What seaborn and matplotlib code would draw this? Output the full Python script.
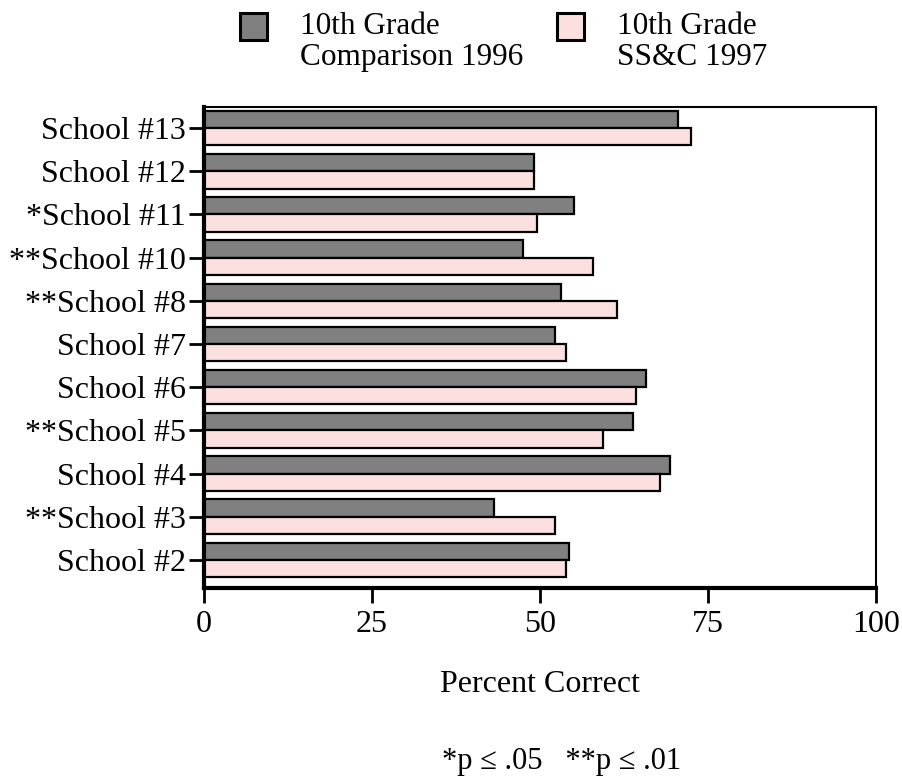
import matplotlib
matplotlib.use("Agg")
import matplotlib.pyplot as plt
import seaborn as sns
import pandas as pd
from matplotlib.patches import Rectangle

schools = ["School #13", "School #12", "*School #11", "**School #10", "**School #8",
           "School #7", "School #6", "**School #5", "School #4", "**School #3", "School #2"]
comparison_1996 = [70.6, 49.1, 55.1, 47.5, 53.1, 52.3, 65.8, 63.8, 69.4, 43.2, 54.3]
ssc_1997 = [72.5, 49.1, 49.5, 57.9, 61.4, 53.9, 64.3, 59.4, 67.8, 52.3, 53.9]
series_names = ["10th Grade\nComparison 1996", "10th Grade\nSS&C 1997"]
xticks = [0, 25, 50, 75, 100]

df = pd.DataFrame({
    "School": schools * 2,
    "Percent": comparison_1996 + ssc_1997,
    "Group": [series_names[0]] * len(schools) + [series_names[1]] * len(schools),
})

sns.set_theme(style="white")
plt.rcParams["font.family"] = ["Liberation Serif", "DejaVu Serif"]
plt.rcParams["text.color"] = "black"
plt.rcParams["axes.labelcolor"] = "black"

colors = ["#808080", "#FCE0E0"]
fig = plt.figure(figsize=(9.03, 7.78), dpi=100)
ax = fig.add_axes([0.2259, 0.2442, 0.7442, 0.6183])

sns.barplot(data=df, y="School", x="Percent", hue="Group", order=schools,
            hue_order=series_names, palette=colors, orient="h", width=0.8,
            edgecolor="black", linewidth=1.6, saturation=1, ax=ax, legend=False)

ax.set_xlim(0, 100)
ax.set_ylim(10.65, -0.49)
ax.set_xticks(xticks)
ax.set_xticklabels([str(v) for v in xticks])
ax.set_ylabel("")
ax.set_xlabel("Percent Correct", fontsize=23, labelpad=22, color="black")

for side in ["top", "right"]:
    ax.spines[side].set_linewidth(1.5)
    ax.spines[side].set_color("black")
for side in ["left", "bottom"]:
    ax.spines[side].set_linewidth(3)
    ax.spines[side].set_color("black")

ax.tick_params(axis="y", which="major", direction="out", length=11, width=2,
               labelsize=23, pad=2, colors="black", left=True)
ax.tick_params(axis="x", which="major", direction="out", length=11, width=2,
               labelsize=23, pad=5, colors="black", bottom=True)

# legend (manual layout: square aligned with the first text line)
legend_x = [240, 557]       # pixel left of each square
text_x = [300, 617]         # pixel left of each label
W, H = 903.0, 778.0
for c, name, sx, tx in zip(colors, series_names, legend_x, text_x):
    fig.patches.append(Rectangle((sx / W, 1 - 40 / H), 27 / W, 27 / H,
                                 transform=fig.transFigure, facecolor=c,
                                 edgecolor="black", linewidth=2.2))
    fig.text(tx / W, 1 - 12 / H, name, ha="left", va="top", fontsize=22.5,
             linespacing=1.08, color="black")

fig.text(562 / W, 1 - 769 / H, "*p \u2264 .05   **p \u2264 .01", ha="center", va="baseline",
         fontsize=22, color="black")

fig.savefig("out.png", dpi=100)
